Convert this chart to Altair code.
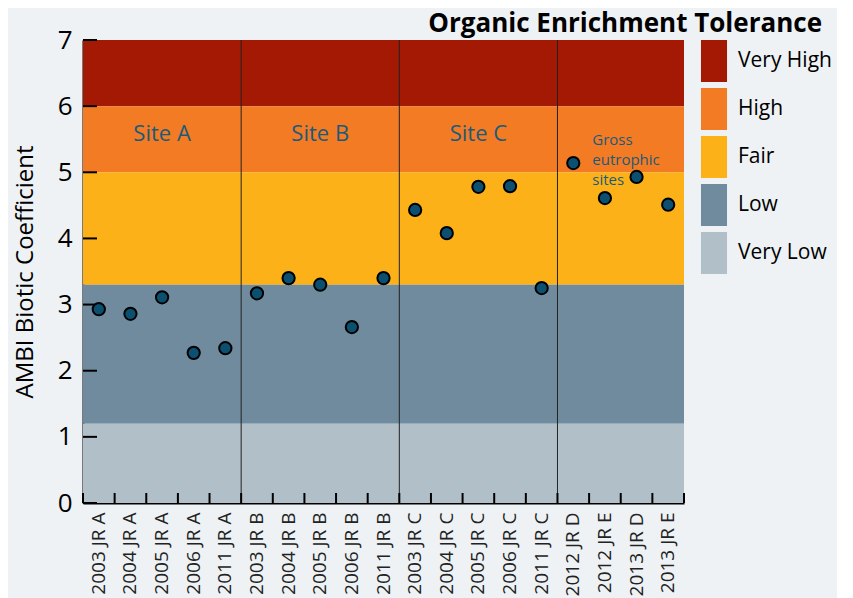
import altair as alt
import pandas as pd

categories = ["2003 JR A", "2004 JR A", "2005 JR A", "2006 JR A", "2011 JR A",
              "2003 JR B", "2004 JR B", "2005 JR B", "2006 JR B", "2011 JR B",
              "2003 JR C", "2004 JR C", "2005 JR C", "2006 JR C", "2011 JR C",
              "2012 JR D", "2012 JR E", "2013 JR D", "2013 JR E"]
ambi = [2.93, 2.86, 3.11, 2.27, 2.34,
        3.17, 3.40, 3.30, 2.66, 3.40,
        4.43, 4.08, 4.78, 4.79, 3.25,
        5.14, 4.61, 4.93, 4.51]

band_names = ["Very High", "High", "Fair", "Low", "Very Low"]
band_lo = [6.0, 5.0, 3.3, 1.2, 0.0]
band_hi = [7.0, 6.0, 5.0, 3.3, 1.2]
band_colors = ["#A31903", "#F37B24", "#FDB118", "#6F8B9D", "#B1C0C8"]

site_labels = ["Site A", "Site B", "Site C"]
site_label_cats = ["2005 JR A", "2005 JR B", "2005 JR C"]
site_starts = ["2003 JR B", "2003 JR C", "2012 JR D"]
y_ticks = [0, 1, 2, 3, 4, 5, 6, 7]

W, H = 601, 463
FONT = "Open Sans"
TEXT_BLUE = "#1B5A7A"

pts = pd.DataFrame({"cat": categories, "ambi": ambi})
bands = pd.DataFrame({"band": band_names, "lo": band_lo, "hi": band_hi})
sites = pd.DataFrame({"cat": site_label_cats, "label": site_labels, "y": [5.58] * 3})
vlines = pd.DataFrame({"cat": site_starts})
yt = pd.DataFrame({"v": y_ticks})
xt = pd.DataFrame({"cat": categories})

xscale = alt.Scale(domain=categories, paddingInner=0, paddingOuter=0)
yscale = alt.Scale(domain=[0, 7], nice=False)

band_layer = alt.Chart(bands).mark_rect().encode(
    x=alt.value(0), x2=alt.value(W),
    y=alt.Y("lo:Q", scale=yscale,
            axis=alt.Axis(title="AMBI Biotic Coefficient", values=y_ticks, format="d",
                          ticks=False, labelFontSize=26, labelPadding=11,
                          titleFontSize=24, titleFontWeight="normal", titlePadding=20,
                          grid=False, domainColor="black", domainWidth=2,
                          labelColor="black", titleColor="black",
                          labelFont=FONT, titleFont=FONT)),
    y2="hi:Q",
    color=alt.Color("band:N",
                    scale=alt.Scale(domain=band_names, range=band_colors),
                    legend=alt.Legend(title=None, orient="right", offset=9,
                                      symbolType="M-0.62,-1H0.62V1H-0.62Z",
                                      symbolSize=1764, symbolStrokeWidth=0,
                                      symbolOpacity=1, labelFontSize=21,
                                      labelFont=FONT, labelColor="black",
                                      labelOffset=3, rowPadding=6, padding=0)),
)

vline_layer = alt.Chart(vlines).mark_rule(color="#222222", strokeWidth=1).encode(
    x=alt.X("cat:N", scale=xscale, bandPosition=0),
    y=alt.value(0), y2=alt.value(H),
)

ytick_layer = alt.Chart(yt).mark_rule(color="black", strokeWidth=2).encode(
    y=alt.Y("v:Q", scale=yscale),
    x=alt.value(0), x2=alt.value(14),
)

xtick_layer = alt.Chart(xt).mark_rule(color="black", strokeWidth=2).encode(
    x=alt.X("cat:N", scale=xscale, bandPosition=0),
    y=alt.value(H), y2=alt.value(H - 10),
)

xtick_end = alt.Chart(xt.head(1)).mark_rule(color="black", strokeWidth=2).encode(
    x=alt.value(W), y=alt.value(H), y2=alt.value(H - 10),
)

point_layer = alt.Chart(pts).mark_point(
    filled=True, fill="#0B5071", stroke="black", strokeWidth=2, size=150, opacity=1
).encode(
    x=alt.X("cat:N", scale=xscale, sort=categories,
            axis=alt.Axis(title=None, labelAngle=-90, labelFontSize=19, labelFont=FONT,
                          labelColor="#222222", ticks=False, labelPadding=9,
                          domainColor="black", domainWidth=2, labelBaseline="middle",
                          labelAlign="right")),
    y=alt.Y("ambi:Q", scale=yscale),
)

site_layer = alt.Chart(sites).mark_text(
    fontSize=22, font=FONT, color=TEXT_BLUE
).encode(
    x=alt.X("cat:N", scale=xscale, bandPosition=0.5),
    y=alt.Y("y:Q", scale=yscale),
    text="label:N",
)

gross_layer = alt.Chart(pd.DataFrame({"cat": ["2012 JR D"], "y": [5.49]})).mark_text(
    fontSize=15, font=FONT, color=TEXT_BLUE, align="left", baseline="middle",
    lineHeight=20, dx=19,
).encode(
    x=alt.X("cat:N", scale=xscale, bandPosition=0.5),
    y=alt.Y("y:Q", scale=yscale),
    text=alt.value(["Gross", "eutrophic", "sites"]),
)

chart = alt.layer(
    band_layer, vline_layer, ytick_layer, xtick_layer, xtick_end,
    point_layer, site_layer, gross_layer,
).properties(
    width=W, height=H,
    padding={"left": 5, "top": 3, "right": 5, "bottom": 2},
    title=alt.TitleParams("Organic Enrichment Tolerance", anchor="end", fontSize=26,
                          fontWeight="bold", font=FONT, color="black", offset=-10, dx=-10),
).configure(
    background="#EEF2F5",
).configure_view(stroke="transparent")

chart.save("out.html", embed_options={"renderer": "svg", "actions": False})
